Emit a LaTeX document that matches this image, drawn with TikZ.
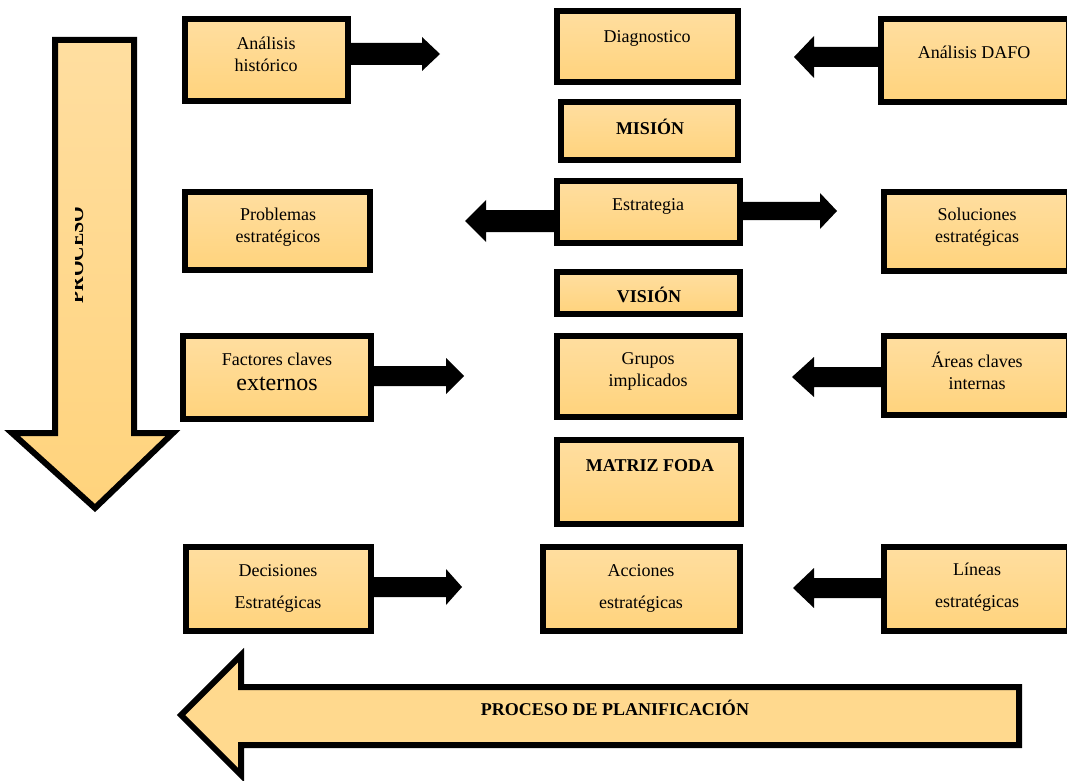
\documentclass[tikz,border=0pt]{standalone}
\usepackage{fontspec}
\setmainfont{Liberation Serif}
\usetikzlibrary{fit,calc}
\definecolor{peachT}{RGB}{255,222,160}
\definecolor{peachB}{RGB}{255,211,124}
\definecolor{peachM}{RGB}{255,217,142}
\tikzset{
  box/.style={draw=black, line width=4.5pt, top color=peachT, bottom color=peachB, inner sep=0pt},
  bigarrow/.style={draw=black, line width=4.5pt, line join=miter},
  txt/.style={font=\fontsize{13.5}{16.5}\selectfont, align=center, inner sep=0pt},
  btxt/.style={font=\fontsize{13.5}{16.5}\selectfont\bfseries, align=center, inner sep=0pt},
  blk/.style={fill=black},
}
% right block arrow: start, shaft length, shaft half width, head half width, head length
\newcommand\RArrow[5]{\fill[blk] (#1) ++(0,-#3) -- ++(#2,0) -- ++(0,{#3-#4}) -- ++(#5,#4) -- ++(-#5,#4) -- ++(0,{#3-#4}) -- ++(-#2,0) -- cycle;}
\newcommand\LArrow[5]{\fill[blk] (#1) ++(0,-#3) -- ++(-#2,0) -- ++(0,{#3-#4}) -- ++(-#5,#4) -- ++(#5,#4) -- ++(0,{#3-#4}) -- ++(#2,0) -- cycle;}
\begin{document}
\begin{tikzpicture}[x=0.75pt,y=-0.75pt]
\useasboundingbox (0,0) rectangle (1067,781);

% big process arrows
\path[bigarrow, top color=peachT, bottom color=peachB] (55,40) -- (134,40) -- (134,433) -- (173,433) -- (95,508) -- (12,433) -- (55,433) -- cycle;
\begin{scope}
\clip (75,190) rectangle (95,320);
\node[rotate=90, anchor=base, inner sep=0pt, font=\fontsize{15}{18}\selectfont\bfseries] (proceso) at (83,255) {PROCESO};
\end{scope}

\path[bigarrow, fill=peachM] (1019,687) -- (241,687) -- (241,655) -- (181,715) -- (241,775) -- (241,745) -- (1019,745) -- cycle;
\node[btxt] (plan) at (615,708) {PROCESO DE PLANIFICACIÓN};

% boxes
\node[box, fit={(185,19) (348,101)}] (hist) {};
\node[box, fit={(557,11) (738,82)}] (diag) {};
\node[box, fit={(881,19) (1069,102)}] (dafo) {};
\node[box, fit={(561,102) (738,160)}] (mision) {};
\node[box, fit={(185,192) (370,270)}] (prob) {};
\node[box, fit={(557,181) (740,243)}] (estr) {};
\node[box, fit={(884,192) (1069,271)}] (sol) {};
\node[box, fit={(557,272) (740,314)}] (vision) {};
\node[box, fit={(183,336) (371,419)}] (fact) {};
\node[box, fit={(557,336) (740,417)}] (grupos) {};
\node[box, fit={(884,336) (1069,415)}] (areas) {};
\node[box, fit={(557,440) (741,524)}] (matriz) {};
\node[box, fit={(186,547) (371,631)}] (dec) {};
\node[box, fit={(543,547) (740,631)}] (acc) {};
\node[box, fit={(884,547) (1069,631)}] (lin) {};

% texts
\node[txt] (thist) at (266,54) {Análisis\\histórico};
\node[txt] (tdiag) at (647,38) {Diagnostico};
\node[txt] (tdafo) at (974,52) {Análisis DAFO};
\node[btxt] (tmision) at (650,127) {MISIÓN};
\node[txt] (tprob) at (278,227) {Problemas\\estratégicos};
\node[txt] (testr) at (648,206) {Estrategia};
\node[txt] (tsol) at (977,227) {Soluciones\\estratégicas};
\node[btxt] (tvision) at (649,295) {VISIÓN};
\node[txt] (tfact) at (277,372) {Factores claves\\[2pt]{\fontsize{18}{20}\selectfont externos}};
\node[txt] (tgrupos) at (648,371) {Grupos\\implicados};
\node[txt] (tareas) at (977,371) {Áreas claves\\internas};
\node[btxt] (tmatriz) at (650,466) {MATRIZ FODA};
\node[txt] (tdec) at (278,588) {Decisiones\\[7.5pt]Estratégicas};
\node[txt] (tacc) at (641,588) {Acciones\\[7.5pt]estratégicas};
\node[txt] (tlin) at (977,587) {Líneas\\[7.5pt]estratégicas};

% black block arrows
\RArrow{$(hist.east)+(0,-6)$}{71}{11}{17}{18}
\LArrow{$(dafo.west)+(0,-3.5)$}{64}{10}{21}{20}
\LArrow{$(estr.west)+(0,9)$}{68}{11}{21}{21}
\RArrow{$(estr.east)+(0,-1)$}{77}{9}{18}{17}
\RArrow{$(fact.east)+(0,-1.5)$}{72}{10}{18}{18}
\LArrow{$(areas.west)+(0,1.5)$}{67}{10}{20}{22}
\RArrow{$(dec.east)+(0,-2)$}{72}{10}{18}{16}
\LArrow{$(lin.west)+(0,-1)$}{67}{10}{20}{21}
\end{tikzpicture}
\end{document}
